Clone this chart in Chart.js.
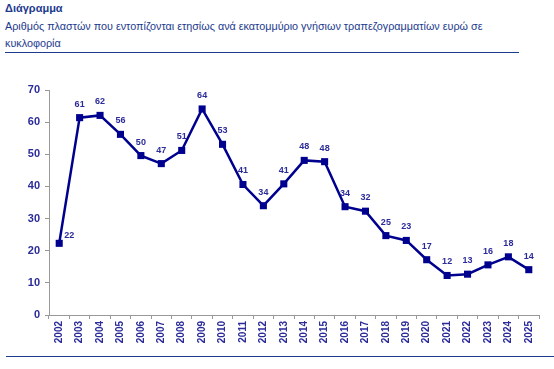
<!DOCTYPE html>
<html>
<head>
<meta charset="utf-8">
<script src="https://cdn.jsdelivr.net/npm/chart.js@4/dist/chart.umd.min.js"></script>
<style>
    body { margin: 0; background: #fff; font-family: "Liberation Sans", Arial, sans-serif; }
    #title { position: absolute; left: 5px; top: 2px; font-size: 11px; font-weight: bold; color: #1c3a8e; }
    #subtitle { position: absolute; left: 5px; top: 18px; width: 520px; font-size: 10.8px; line-height: 17px; color: #1c3a8e; }
    .rule { position: absolute; height: 0; border-top: 1px solid #1c3a8e; }
    #wrap { position: absolute; left: 0; top: 60px; width: 554px; height: 295px; }
</style>
</head>
<body>
<div id="title">Διάγραμμα</div>
<div id="subtitle">Αριθμός πλαστών που εντοπίζονται ετησίως ανά εκατομμύριο γνήσιων τραπεζογραμματίων ευρώ σε κυκλοφορία</div>
<div class="rule" style="left:5px; top:52px; width:514px;"></div>
<div id="wrap"><canvas id="chart"></canvas></div>
<div class="rule" style="left:6px; top:356px; width:548px;"></div>
<script>
let years = ["2002", "2003", "2004", "2005", "2006", "2007", "2008", "2009", "2010", "2011", "2012", "2013",
    "2014", "2015", "2016", "2017", "2018", "2019", "2020", "2021", "2022", "2023", "2024", "2025"];
let values = [22.3, 61.4, 62.1, 56.2, 49.6, 47.1, 51.2, 64.1, 53.1, 40.6, 34.0, 40.8,
    48.1, 47.7, 33.7, 32.3, 24.7, 23.2, 17.2, 12.3, 12.7, 15.6, 18.1, 14.1];
let labels = ["22", "61", "62", "56", "50", "47", "51", "64", "53", "41", "34", "41",
    "48", "48", "34", "32", "25", "23", "17", "12", "13", "16", "18", "14"];

const navy = "#00008f";
const textBlue = "#2b2b99";

// simple value labels above each point
const valueLabels = {
    id: "valueLabels",
    afterDatasetsDraw(chart) {
        let ctx = chart.ctx;
        let meta = chart.getDatasetMeta(0);
        ctx.save();
        ctx.font = "bold 9px 'Liberation Sans', Arial, sans-serif";
        ctx.fillStyle = textBlue;
        ctx.textAlign = "center";
        ctx.textBaseline = "bottom";
        meta.data.forEach((pt, i) => {
            if (i === 0) {
                ctx.fillText(labels[i], pt.x + 10, pt.y - 3);
            } else {
                ctx.fillText(labels[i], pt.x, pt.y - 9);
            }
        });
        ctx.restore();
    },
};

chart = new Chart(document.getElementById("chart"), {
    type: "line",
    data: {
        labels: years,
        datasets: [
            {
                data: values,
                borderColor: navy,
                backgroundColor: navy,
                borderWidth: 2.5,
                fill: false,
                tension: 0,
                pointStyle: "rect",
                pointRadius: 5,
                pointBorderWidth: 0,
            },
        ],
    },
    options: {
        responsive: true,
        maintainAspectRatio: false,
        animation: false,
        layout: { padding: { top: 30, right: 15, left: 0, bottom: 0 } },
        plugins: {
            legend: { display: false },
            tooltip: { enabled: false },
        },
        scales: {
            x: {
                offset: true,
                grid: { display: true, drawOnChartArea: false, offset: true, tickLength: 4, color: "#999" },
                border: { color: "#999" },
                ticks: {
                    color: textBlue,
                    font: { size: 10, weight: "bold", family: "'Liberation Sans', Arial, sans-serif" },
                    minRotation: 90,
                    maxRotation: 90,
                    autoSkip: false,
                    padding: 2,
                },
                afterFit(axis) { axis.height = 40; },
            },
            y: {
                min: 0,
                max: 70,
                grid: { display: true, drawOnChartArea: false, tickLength: 4, color: "#999" },
                border: { color: "#999" },
                ticks: {
                    stepSize: 10,
                    color: textBlue,
                    font: { size: 11, weight: "bold", family: "'Liberation Sans', Arial, sans-serif" },
                    padding: 5,
                },
                afterFit(axis) { axis.width = 49; },
            },
        },
    },
    plugins: [valueLabels],
});
</script>
</body>
</html>
